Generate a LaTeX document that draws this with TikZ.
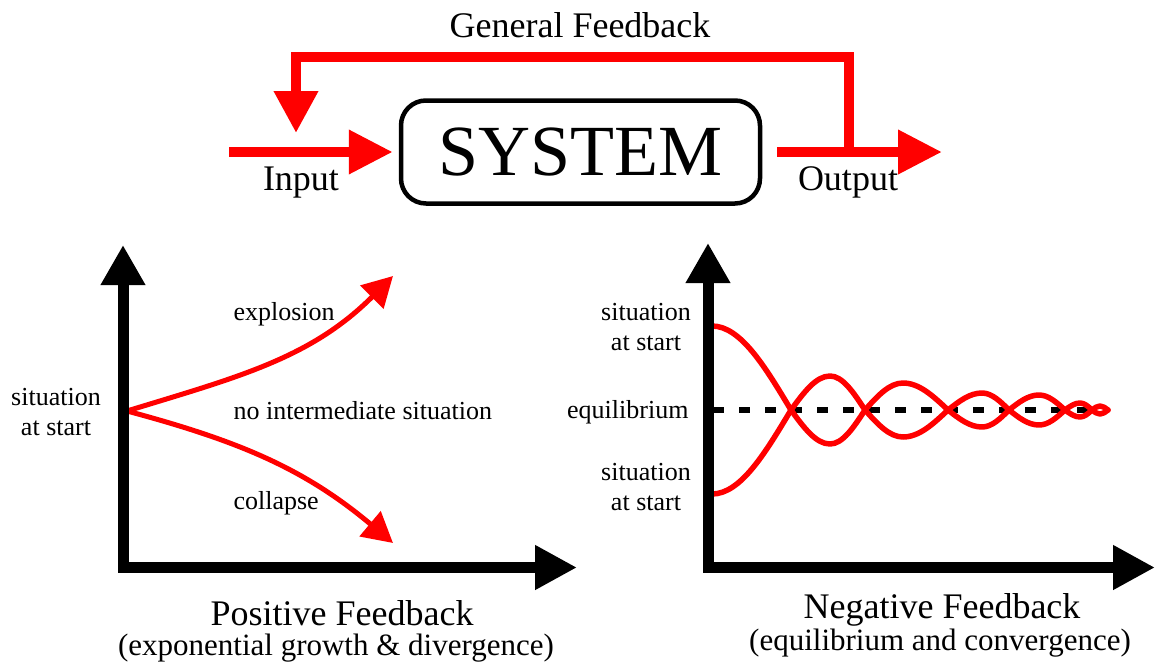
\documentclass[tikz,border=0pt]{standalone}
\usepackage{fontspec}
\setmainfont{Liberation Serif}
\usetikzlibrary{arrows.meta}
\begin{document}
\begin{tikzpicture}[x=1pt,y=1pt,
  flow/.style={draw=red, line width=10pt, -{Triangle[length=44pt,width=42pt]}},
  loopline/.style={draw=red, line width=10pt, line join=miter, -{Triangle[length=42pt,width=42pt]}},
  axis/.style={draw=black, line width=11pt, line join=miter,
    {Triangle[length=40pt,width=42pt]}-{Triangle[length=42pt,width=42pt]}},
  trend/.style={draw=red, line width=5pt, -{Triangle[length=30pt,width=32pt]}},
  wave/.style={draw=red, line width=5.5pt, line cap=round, line join=round},
  eqline/.style={draw=black, line width=6pt, dash pattern=on 11pt off 15pt},
  big/.style={font=\fontsize{36}{43}\selectfont},
  lbl/.style={font=\fontsize{26}{30}\selectfont},
  sub/.style={font=\fontsize{31}{37}\selectfont},
  sysbox/.style={draw, line width=4.5pt, rounded corners=25pt,
    minimum width=359pt, minimum height=103pt, inner sep=0pt,
    font=\fontsize{72}{80}\selectfont},
]
\useasboundingbox[fill=white] (0,0) rectangle (1157,-664);

% ---- system block with general feedback loop ----
\node[sysbox] (sys) at (580.5,-152) {SYSTEM};
\coordinate (inS) at (229,-152);
\coordinate (outE) at (942,-152);
\draw[flow] (inS) -- ([xshift=-6pt]sys.west);
\draw[flow] ([xshift=15pt]sys.east) -- (outE);
\coordinate (fbA) at (849,-152);
\coordinate (fbB) at (849,-57);
\coordinate (fbC) at (296,-57);
\coordinate (fbD) at (296,-133);
\draw[loopline] (fbA) -- (fbB) -- (fbC) -- (fbD);
\node[big, anchor=base] (gf) at (580,-37) {General Feedback};
\node[big, anchor=base] (inlab) at (301,-190) {Input};
\node[big, anchor=base] (outlab) at (848,-190) {Output};

% ---- positive feedback ----
\coordinate (ps) at (127,-411);
\coordinate (pe) at (393,-276);
\coordinate (pc) at (393,-543);
\draw[trend] (ps) to[out=17,in=225] (pe);
\draw[trend] (ps) to[out=-15,in=140] (pc);
\coordinate (lo) at (123,-567.5);
\coordinate (ly) at (123,-245);
\coordinate (lx) at (577,-567.5);
\draw[axis] (ly) -- (lo) -- (lx);
\node[lbl, anchor=base west] (expl) at (230,-320) {explosion};
\node[lbl, anchor=base west] (nointer) at (230,-419) {no intermediate situation};
\node[lbl, anchor=base west] (coll) at (230,-509) {collapse};
\node[lbl, align=center] (lstart) at (56,-412) {situation\\at start};
\node[big, anchor=base] (ptitle) at (342,-625) {Positive Feedback};
\node[sub, anchor=base] (psub) at (336,-655) {(exponential growth \& divergence)};

% ---- negative feedback ----
\coordinate (eqS) at (713,-410);
\coordinate (eqE) at (1104,-410);
\draw[eqline] (eqS) -- (eqE);
\draw[wave] (712,-326) cos (791,-410) sin (830,-444) cos (865,-410)
  sin (903,-383) cos (948,-410) sin (982,-427) cos (1009,-410)
  sin (1039,-395) cos (1065,-410) sin (1080,-417) cos (1092,-410)
  sin (1100,-406) cos (1108,-410);
\draw[wave] (712,-494) cos (791,-410) sin (830,-376) cos (865,-410)
  sin (903,-437) cos (948,-410) sin (982,-393) cos (1009,-410)
  sin (1039,-425) cos (1065,-410) sin (1080,-403) cos (1092,-410)
  sin (1100,-414) cos (1108,-410);
\coordinate (ro) at (708,-567.5);
\coordinate (ry) at (708,-243);
\coordinate (rx) at (1155,-567.5);
\draw[axis] (ry) -- (ro) -- (rx);
\node[lbl, align=center] (rstartA) at (646,-327) {situation\\at start};
\node[lbl, anchor=base east] (eqlab) at (692,-418) {equilibrium};
\node[lbl, align=center] (rstartB) at (646,-487) {situation\\at start};
\node[big, anchor=base] (ntitle) at (942,-618) {Negative Feedback};
\node[sub, anchor=base] (nsub) at (940,-650) {(equilibrium and convergence)};
\end{tikzpicture}
\end{document}
